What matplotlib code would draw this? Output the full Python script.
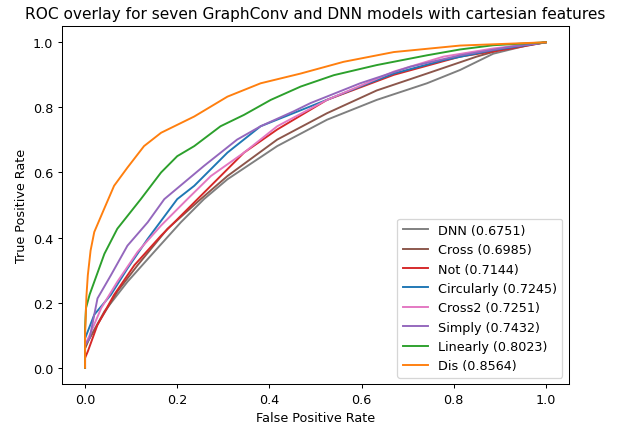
import matplotlib
matplotlib.use('Agg')
import matplotlib.pyplot as plt

# ROC points (fpr, tpr) per model
names = ['DNN', 'Cross', 'Not', 'Circularly', 'Cross2', 'Simply', 'Linearly', 'Dis']
aucs = [0.6751, 0.6985, 0.7144, 0.7245, 0.7251, 0.7432, 0.8023, 0.8564]
colors = ['#7f7f7f', '#8c564b', '#d62728', '#1f77b4', '#e377c2', '#9467bd', '#2ca02c', '#ff7f0e']

fpr_dnn = [0, 0, 0.010, 0.042, 0.092, 0.150, 0.208, 0.258, 0.309, 0.417, 0.525, 0.633, 0.742, 0.814, 0.886, 0.958, 1.0]
tpr_dnn = [0, 0.06, 0.091, 0.173, 0.264, 0.356, 0.447, 0.518, 0.579, 0.681, 0.762, 0.823, 0.874, 0.915, 0.965, 0.990, 1.0]

fpr_cross = [0, 0, 0.006, 0.035, 0.070, 0.114, 0.179, 0.251, 0.309, 0.417, 0.525, 0.633, 0.742, 0.850, 0.922, 1.0]
tpr_cross = [0, 0.06, 0.081, 0.152, 0.234, 0.315, 0.427, 0.518, 0.589, 0.701, 0.782, 0.852, 0.904, 0.956, 0.985, 1.0]

fpr_not = [0, 0, 0.006, 0.027, 0.063, 0.107, 0.165, 0.244, 0.273, 0.345, 0.417, 0.525, 0.670, 0.814, 0.922, 1.0]
tpr_not = [0, 0.03, 0.050, 0.132, 0.224, 0.315, 0.406, 0.518, 0.559, 0.661, 0.732, 0.823, 0.900, 0.956, 0.980, 1.0]

fpr_circ = [0, 0, 0.020, 0.056, 0.092, 0.136, 0.200, 0.237, 0.309, 0.381, 0.489, 0.597, 0.670, 0.778, 0.886, 1.0]
tpr_circ = [0, 0.09, 0.163, 0.224, 0.305, 0.396, 0.518, 0.559, 0.661, 0.742, 0.803, 0.864, 0.904, 0.945, 0.976, 1.0]

fpr_cross2 = [0, 0, 0.010, 0.035, 0.070, 0.114, 0.165, 0.222, 0.273, 0.345, 0.417, 0.525, 0.670, 0.778, 0.886, 1.0]
tpr_cross2 = [0, 0.07, 0.100, 0.183, 0.264, 0.356, 0.437, 0.518, 0.589, 0.661, 0.742, 0.823, 0.910, 0.956, 0.981, 1.0]

fpr_simply = [0, 0, 0.010, 0.027, 0.056, 0.092, 0.136, 0.172, 0.258, 0.330, 0.381, 0.453, 0.489, 0.597, 0.706, 0.814, 0.922, 1.0]
tpr_simply = [0, 0.07, 0.091, 0.213, 0.284, 0.375, 0.447, 0.518, 0.620, 0.701, 0.742, 0.788, 0.813, 0.874, 0.925, 0.960, 0.986, 1.0]

fpr_lin = [0, 0, 0.002, 0.010, 0.020, 0.042, 0.070, 0.121, 0.165, 0.200, 0.237, 0.294, 0.345, 0.403, 0.468, 0.540, 0.633, 0.742, 0.814, 0.886, 1.0]
tpr_lin = [0, 0.12, 0.183, 0.225, 0.264, 0.350, 0.427, 0.518, 0.600, 0.650, 0.681, 0.742, 0.777, 0.823, 0.864, 0.899, 0.930, 0.960, 0.978, 0.991, 1.0]

fpr_dis = [0, 0, 0.003, 0.006, 0.012, 0.020, 0.042, 0.063, 0.092, 0.128, 0.165, 0.237, 0.309, 0.381, 0.468, 0.561, 0.670, 0.814, 1.0]
tpr_dis = [0, 0.10, 0.220, 0.284, 0.360, 0.417, 0.490, 0.559, 0.615, 0.681, 0.722, 0.772, 0.833, 0.874, 0.904, 0.940, 0.970, 0.990, 1.0]

fprs = [fpr_dnn, fpr_cross, fpr_not, fpr_circ, fpr_cross2, fpr_simply, fpr_lin, fpr_dis]
tprs = [tpr_dnn, tpr_cross, tpr_not, tpr_circ, tpr_cross2, tpr_simply, tpr_lin, tpr_dis]

DPI = 92
fig, ax = plt.subplots(figsize=(617 / DPI, 429 / DPI), dpi=DPI)
fig.subplots_adjust(left=0.1005, right=0.922, top=0.937, bottom=0.1026)

for name, auc, c, fx, ty in zip(names, aucs, colors, fprs, tprs):
    ax.plot(fx, ty, color=c, lw=1.5, label=f'{name} ({auc:.4f})')

ax.set_xlabel('False Positive Rate')
ax.set_ylabel('True Positive Rate')
ax.set_title('ROC overlay for seven GraphConv and DNN models with cartesian features')
ax.legend(loc='lower right')

plt.savefig('out.png', dpi=DPI)
plt.close()
